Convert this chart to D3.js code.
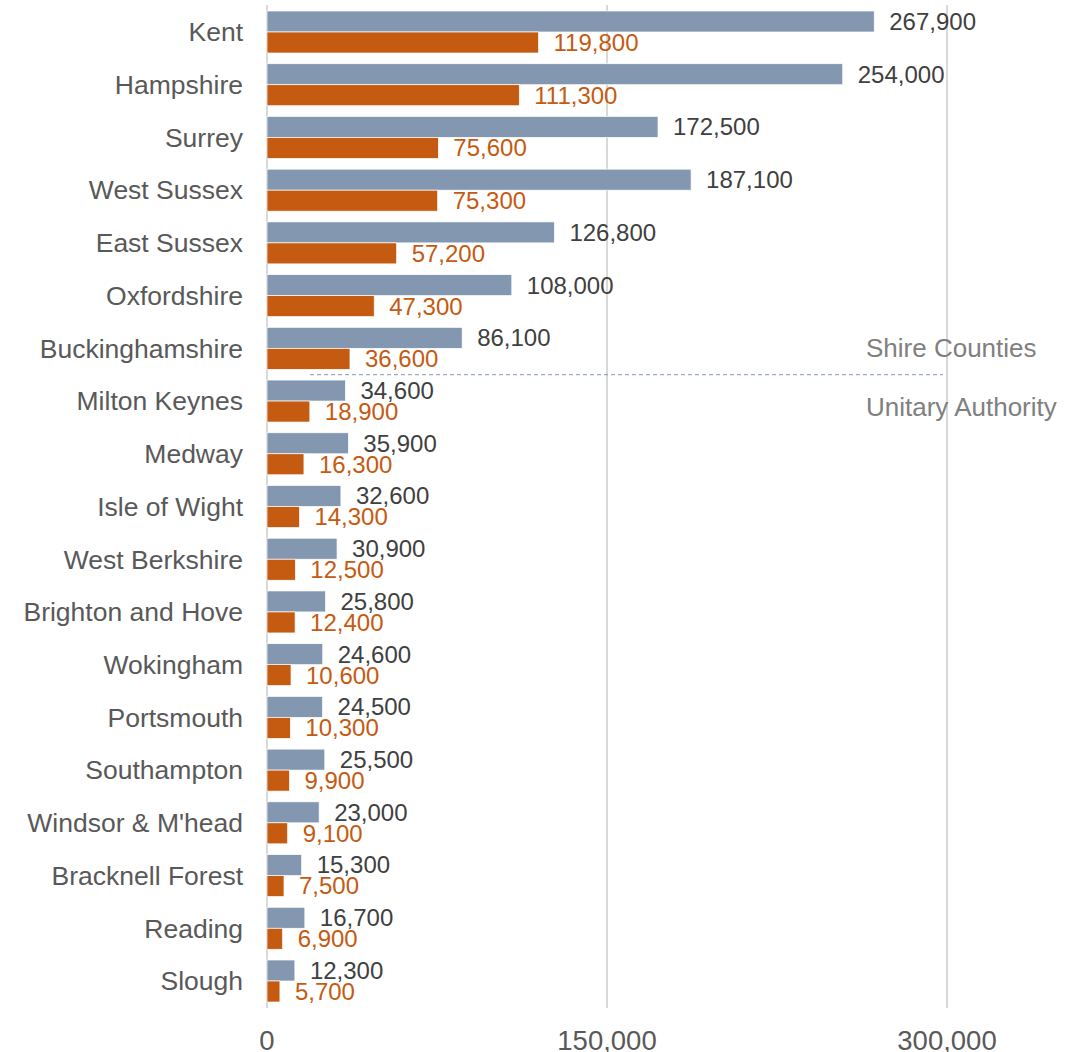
<!DOCTYPE html>
<html>
<head>
<meta charset="utf-8">
<script src="https://cdn.jsdelivr.net/npm/d3@7"></script>
<style>
  body { margin: 0; background: #fff; }
  text { font-family: "Liberation Sans", Arial, sans-serif; }
</style>
</head>
<body>
<script>
var areas = ["Kent", "Hampshire", "Surrey", "West Sussex", "East Sussex", "Oxfordshire",
  "Buckinghamshire", "Milton Keynes", "Medway", "Isle of Wight", "West Berkshire",
  "Brighton and Hove", "Wokingham", "Portsmouth", "Southampton", "Windsor & M'head",
  "Bracknell Forest", "Reading", "Slough"];
var blueValues = [267900, 254000, 172500, 187100, 126800, 108000, 86100, 34600, 35900,
  32600, 30900, 25800, 24600, 24500, 25500, 23000, 15300, 16700, 12300];
var orangeValues = [119800, 111300, 75600, 75300, 57200, 47300, 36600, 18900, 16300,
  14300, 12500, 12400, 10600, 10300, 9900, 9100, 7500, 6900, 5700];
var tickValues = [0, 150000, 300000];
var groupLabels = ["Shire Counties", "Unitary Authority"];

var svg = d3.select("body").append("svg")
    .attr("width", 1089)
    .attr("height", 1052);

var x = d3.scaleLinear().domain([0, 300000]).range([267, 947]);
var y = d3.scalePoint().domain(areas).range([32, 981]);
var barH = 21;
var fmt = d3.format(",");

// grid lines
svg.selectAll(".grid")
  .data(tickValues)
  .enter().append("line")
    .attr("x1", function(d) { return x(d); })
    .attr("x2", function(d) { return x(d); })
    .attr("y1", 5)
    .attr("y2", 1008)
    .attr("stroke", "#d9d9d9")
    .attr("stroke-width", 2);

// axis labels
svg.selectAll(".tick-label")
  .data(tickValues)
  .enter().append("text")
    .attr("x", function(d) { return x(d); })
    .attr("y", 1040)
    .attr("dy", "0.35em")
    .attr("text-anchor", "middle")
    .attr("fill", "#595959")
    .style("font-size", "27.5px")
    .text(function(d) { return fmt(d); });

var row = svg.selectAll(".row")
  .data(areas)
  .enter().append("g")
    .attr("transform", function(d) { return "translate(0," + y(d) + ")"; });

row.append("rect")
    .attr("x", x(0))
    .attr("y", -barH)
    .attr("width", function(d, i) { return x(blueValues[i]) - x(0); })
    .attr("height", barH)
    .attr("fill", "#8497b0")
    .attr("stroke", "#fff")
    .attr("stroke-width", 0.7);

row.append("rect")
    .attr("x", x(0))
    .attr("y", 0)
    .attr("width", function(d, i) { return x(orangeValues[i]) - x(0); })
    .attr("height", barH)
    .attr("fill", "#c55a11")
    .attr("stroke", "#fff")
    .attr("stroke-width", 0.7);

row.append("text")
    .attr("x", function(d, i) { return x(blueValues[i]) + 15; })
    .attr("y", -barH / 2)
    .attr("dy", "0.35em")
    .attr("fill", "#404040")
    .style("font-size", "24px")
    .text(function(d, i) { return fmt(blueValues[i]); });

row.append("text")
    .attr("x", function(d, i) { return x(orangeValues[i]) + 15; })
    .attr("y", barH / 2)
    .attr("dy", "0.35em")
    .attr("fill", "#c55a11")
    .style("font-size", "24px")
    .text(function(d, i) { return fmt(orangeValues[i]); });

// category labels
row.append("text")
    .attr("x", 243)
    .attr("y", 0)
    .attr("dy", "0.35em")
    .attr("text-anchor", "end")
    .attr("fill", "#595959")
    .style("font-size", "26.5px")
    .text(function(d) { return d; });

// divider between shire counties and unitary authorities
var divY = (y("Buckinghamshire") + y("Milton Keynes")) / 2;
svg.append("line")
    .attr("x1", 310)
    .attr("x2", 943)
    .attr("y1", divY)
    .attr("y2", divY)
    .attr("stroke", "#8497b0")
    .attr("stroke-width", 1)
    .attr("stroke-dasharray", "4,3");

svg.selectAll(".group-label")
  .data(groupLabels)
  .enter().append("text")
    .attr("x", 866)
    .attr("y", function(d, i) { return i === 0 ? divY - 27 : divY + 32; })
    .attr("dy", "0.35em")
    .attr("fill", "#808080")
    .style("font-size", "26px")
    .text(function(d) { return d; });
</script>
</body>
</html>
